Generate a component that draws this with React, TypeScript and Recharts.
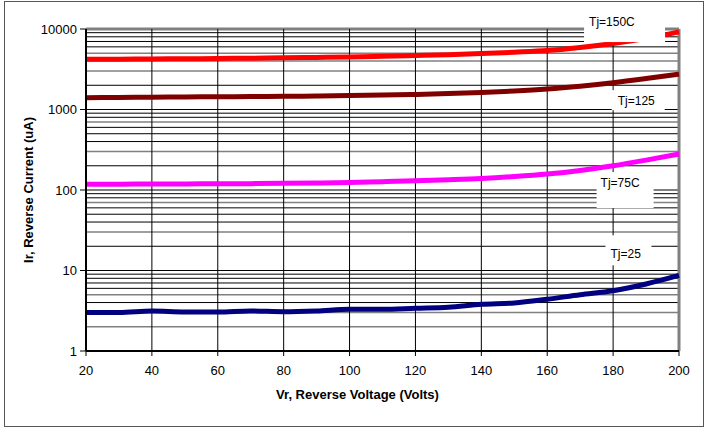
import { LineChart, Line, XAxis, YAxis, ReferenceLine, ReferenceDot, Label } from 'recharts';

const voltages = [20, 30, 40, 50, 60, 70, 80, 90, 100, 110, 120, 130, 140, 150, 160, 170, 180, 190, 200];
const tj150 = [4200, 4220, 4250, 4270, 4300, 4340, 4380, 4430, 4500, 4580, 4680, 4800, 4950, 5150, 5400, 5900, 6600, 7600, 9200];
const tj125 = [1400, 1410, 1420, 1430, 1440, 1450, 1460, 1470, 1490, 1510, 1540, 1580, 1630, 1700, 1800, 1950, 2150, 2420, 2750];
const tj75 = [118, 118, 119, 119, 120, 120, 121, 122, 124, 127, 130, 134, 139, 147, 158, 175, 200, 235, 280];
const tj25 = [3.0, 3.0, 3.13, 3.05, 3.05, 3.15, 3.08, 3.15, 3.3, 3.3, 3.4, 3.5, 3.8, 3.95, 4.4, 5.0, 5.6, 6.8, 8.7];

const xTicks = [20, 40, 60, 80, 100, 120, 140, 160, 180, 200];
const yTicks = [1, 10, 100, 1000, 10000];
const gridX = [40, 60, 80, 100, 120, 140, 160, 180, 200];
const gridY = [2, 3, 4, 5, 6, 7, 8, 9, 10, 20, 30, 40, 50, 60, 70, 80, 90, 100, 200, 300, 400, 500, 600, 700, 800, 900, 1000, 2000, 3000, 4000, 5000, 6000, 7000, 8000, 9000, 10000];
const grayY = [2, 3, 5, 30, 70, 300, 700, 3000, 4000, 5000, 10000];

const tagNames = ['Tj=150C', 'Tj=125', 'Tj=75C', 'Tj=25'];
const tagV = [172.7, 181.4, 176.2, 179.2];
const tagI = [12200, 1270, 122, 15.9];

const data = voltages.map((v, i) => ({
  v,
  tj150: tj150[i],
  tj125: tj125[i],
  tj75: tj75[i],
  tj25: tj25[i],
}));

const boxes = [
  { dx: -5, dy: -12, w: 81, h: 32 },
  { dx: -6, dy: -11, w: 53, h: 20 },
  { dx: -4, dy: -11, w: 57, h: 36 },
  { dx: -5, dy: -19, w: 46, h: 30 },
];

const font = "Arial, 'Liberation Sans', sans-serif";

function tagShape(i: number) {
  return (props: any) => {
    const b = boxes[i];
    return (
      <g>
        <rect x={props.cx + b.dx} y={props.cy + b.dy} width={b.w} height={b.h} fill="#fff" />
        <text x={props.cx} y={props.cy} dominantBaseline="central" fontSize={12} fontFamily={font} fill="#000">
          {tagNames[i]}
        </text>
      </g>
    );
  };
}

export default function App() {
  return (
    <div style={{ position: 'absolute', left: 0, top: 0, width: 707, height: 428, background: '#fff' }}>
      <LineChart width={707} height={428} data={data} margin={{ top: 29, right: 28, bottom: 37, left: 0 }}>
        {gridY.map((g) => {
          const gray = grayY.includes(g);
          return (
            <ReferenceLine key={'h' + g} y={g} stroke={gray ? '#808080' : '#000'}
              strokeWidth={g === 10000 ? 3 : gray ? 1.5 : 1} />
          );
        })}
        {gridX.map((g) => (
          <ReferenceLine key={'v' + g} x={g} stroke={g === 200 ? '#808080' : '#000'} strokeWidth={g === 200 ? 3 : 1} />
        ))}
        <XAxis dataKey="v" type="number" domain={[20, 200]} ticks={xTicks} height={40}
          tick={{ fontSize: 13, fontFamily: font, fill: '#000' }} tickSize={5} tickMargin={10}
          axisLine={{ stroke: '#000', strokeWidth: 2 }} tickLine={{ stroke: '#000' }}>
          <Label content={(p: any) => (
            <text x={p.viewBox.x + p.viewBox.width / 2 - 25} y={p.viewBox.y + 43} textAnchor="middle"
              dominantBaseline="central" fontSize={13} fontWeight="bold" fontFamily={font} fill="#000">
              Vr, Reverse Voltage (Volts)
            </text>
          )} />
        </XAxis>
        <YAxis scale="log" domain={[1, 10000]} ticks={yTicks} allowDataOverflow width={86}
          tick={{ fontSize: 13, fontFamily: font, fill: '#000' }} tickSize={6} tickMargin={3}
          axisLine={{ stroke: '#000', strokeWidth: 2 }} tickLine={{ stroke: '#000' }}>
          <Label content={(p: any) => {
            const cy = p.viewBox.y + p.viewBox.height / 2;
            return (
              <text x={28} y={cy} textAnchor="middle" dominantBaseline="central" transform={`rotate(-90 28 ${cy})`}
                fontSize={13} fontWeight="bold" fontFamily={font} fill="#000">
                Ir, Reverse Current (uA)
              </text>
            );
          }} />
        </YAxis>
        <Line type="monotone" dataKey="tj150" stroke="#ff0000" strokeWidth={5} dot={false} isAnimationActive={false} />
        <Line type="monotone" dataKey="tj125" stroke="#800000" strokeWidth={5} dot={false} isAnimationActive={false} />
        <Line type="monotone" dataKey="tj75" stroke="#ff00ff" strokeWidth={5} dot={false} isAnimationActive={false} />
        <Line type="monotone" dataKey="tj25" stroke="#000080" strokeWidth={5} dot={false} isAnimationActive={false} />
        {tagNames.map((n, i) => (
          <ReferenceDot key={n} x={tagV[i]} y={tagI[i]} ifOverflow="visible" shape={tagShape(i)} />
        ))}
      </LineChart>
      <div style={{ position: 'absolute', left: 4, top: 1, width: 698, height: 424, border: '1px solid #555', pointerEvents: 'none' }} />
    </div>
  );
}
